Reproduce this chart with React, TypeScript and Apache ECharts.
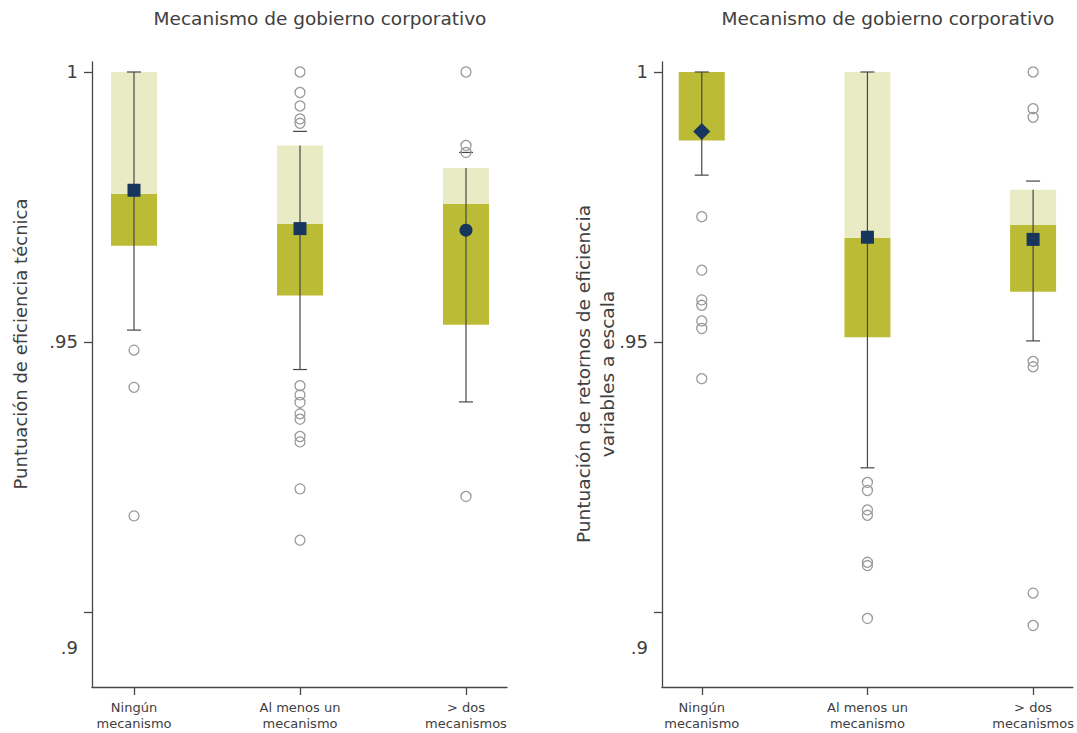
import React, { useEffect, useRef } from "react";
import * as echarts from "echarts";

// ---------- data ----------
const categories = ["Ningún\nmecanismo", "Al menos un\nmecanismo", "> dos\nmecanismos"];
const panelTitle = "Mecanismo de gobierno corporativo";
const leftYName = "Puntuación de eficiencia técnica";
const rightYName = "Puntuación de retornos de eficiencia\nvariables a escala";

const yTickValues = [0.9, 0.95, 1];
const yTickLabels = [".9", ".95", "1"];

// box stats per category: [q1, median, q3, lowerWhisker, upperWhisker]
const teBoxes = [
  [0.9678, 0.9774, 1.0, 0.9522, 1.0],
  [0.9586, 0.9719, 0.9864, 0.9449, 0.989],
  [0.9532, 0.9756, 0.9822, 0.9389, 0.9851],
];
const teMarkers = [0.9781, 0.971, 0.9707];
const teMarkerSymbols = ["rect", "rect", "circle"];
const teOutliers = [
  [0.9485, 0.9416, 0.9178],
  [1.0, 0.9962, 0.9937, 0.9913, 0.9905, 0.9419, 0.9402, 0.9388, 0.9367, 0.9357, 0.9325, 0.9315, 0.9228, 0.9133],
  [1.0, 0.9864, 0.9851, 0.9214],
];

const vrsBoxes = [
  [0.9873, 1.0, 1.0, 0.9809, 1.0],
  [0.9509, 0.9693, 1.0, 0.9267, 1.0],
  [0.9593, 0.9717, 0.9782, 0.9502, 0.9798],
];
const vrsMarkers = [0.989, 0.9694, 0.969];
const vrsMarkerSymbols = ["diamond", "rect", "rect"];
const vrsOutliers = [
  [0.9732, 0.9633, 0.9578, 0.9568, 0.9539, 0.9525, 0.9432],
  [0.924, 0.9225, 0.9189, 0.9179, 0.9092, 0.9086, 0.8988],
  [1.0, 0.9932, 0.9916, 0.9464, 0.9454, 0.9035, 0.8975],
];

// ---------- style ----------
const FONT = "DejaVu Sans, Verdana, sans-serif";
const DARK = "#BCBB35";
const LIGHT = "#E9EBC4";
const NAVY = "#16365E";
const LINE = "#474747";
const TEXT = "#404040";

export default function App() {
  const ref = useRef<HTMLDivElement>(null);

  useEffect(() => {
    if (!ref.current) return;
    const chart = echarts.init(ref.current, null, { renderer: "svg" });

    const renderBox = (params: any, api: any) => {
      const x = api.value(0);
      const q1 = api.coord([x, api.value(1)]);
      const med = api.coord([x, api.value(2)]);
      const q3 = api.coord([x, api.value(3)]);
      const wlo = api.coord([x, api.value(4)]);
      const whi = api.coord([x, api.value(5)]);
      const cx = q1[0];
      const bw = 46;
      const cw = 14;
      const ls = { stroke: LINE, lineWidth: 1.2 };
      return {
        type: "group",
        children: [
          { type: "rect", shape: { x: cx - bw / 2, y: med[1], width: bw, height: q1[1] - med[1] }, style: { fill: DARK } },
          { type: "rect", shape: { x: cx - bw / 2, y: q3[1], width: bw, height: med[1] - q3[1] }, style: { fill: LIGHT } },
          { type: "line", shape: { x1: cx, y1: q3[1], x2: cx, y2: wlo[1] }, style: ls },
          { type: "line", shape: { x1: cx - cw / 2, y1: wlo[1], x2: cx + cw / 2, y2: wlo[1] }, style: ls },
          { type: "line", shape: { x1: cx - cw / 2, y1: whi[1], x2: cx + cw / 2, y2: whi[1] }, style: ls },
        ],
      };
    };

    const yMin = 0.88611;
    const yMax = 1.00185;

    const makeX = (idx: number, min: number, max: number) => ({
      type: "value",
      gridIndex: idx,
      min,
      max,
      splitLine: { show: false },
      axisLine: { show: true, lineStyle: { color: LINE, width: 1.3 } },
      axisTick: { show: true, length: 8, customValues: [1, 2, 3], lineStyle: { color: LINE, width: 1.3 } },
      axisLabel: {
        customValues: [1, 2, 3],
        formatter: (v: number) => categories[Math.round(v) - 1] ?? "",
        fontSize: 13,
        lineHeight: 16,
        color: TEXT,
        fontFamily: FONT,
        margin: 12,
      },
    });

    const makeY = (idx: number) => ({
      type: "value",
      gridIndex: idx,
      min: yMin,
      max: yMax,
      splitLine: { show: false },
      axisLine: { show: true, lineStyle: { color: LINE, width: 1.3 } },
      axisTick: { show: true, length: 8, customValues: yTickValues, lineStyle: { color: LINE, width: 1.3 } },
      axisLabel: {
        customValues: yTickValues,
        formatter: (v: number) => {
          const i = yTickValues.findIndex((t) => Math.abs(t - v) < 1e-6);
          const s = i >= 0 ? yTickLabels[i] : "";
          return i === 0 ? "{low|" + s + "}" : s;
        },
        rich: { low: { fontSize: 18, color: TEXT, fontFamily: FONT, padding: [72, 0, 0, 0] } },
        fontSize: 18,
        color: TEXT,
        fontFamily: FONT,
        margin: 14,
      },
    });

    const boxData = (boxes: number[][]) => boxes.map((b, i) => [i + 1, ...b]);
    const markerData = (vals: number[], syms: string[]) =>
      vals.map((v, i) => ({ value: [i + 1, v], symbol: syms[i], symbolSize: syms[i] === "diamond" ? 17 : 13 }));
    const outlierData = (outs: number[][]) => outs.flatMap((arr, i) => arr.map((v) => [i + 1, v]));

    const panelSeries = (idx: number, boxes: number[][], markers: number[], syms: string[], outs: number[][]) => [
      {
        type: "custom",
        xAxisIndex: idx,
        yAxisIndex: idx,
        renderItem: renderBox,
        data: boxData(boxes),
        encode: { x: 0, y: [1, 2, 3, 4, 5] },
        z: 2,
      },
      {
        type: "scatter",
        xAxisIndex: idx,
        yAxisIndex: idx,
        data: outlierData(outs),
        symbol: "circle",
        symbolSize: 10,
        itemStyle: { color: "rgba(255,255,255,0)", borderColor: "#9a9a9a", borderWidth: 1.3, opacity: 1 },
        z: 3,
      },
      {
        type: "scatter",
        xAxisIndex: idx,
        yAxisIndex: idx,
        data: markerData(markers, syms),
        itemStyle: { color: NAVY, opacity: 1 },
        z: 4,
      },
    ];

    const titleStyle = { fontSize: 18.5, fontWeight: "normal", color: TEXT, fontFamily: FONT };

    const option: any = {
      animation: false,
      backgroundColor: "#fff",
      textStyle: { fontFamily: FONT },
      title: [
        { text: panelTitle, left: 320, top: 9, textAlign: "center", padding: 0, textStyle: titleStyle },
        { text: panelTitle, left: 888, top: 9, textAlign: "center", padding: 0, textStyle: titleStyle },
      ],
      grid: [
        { left: 92, top: 62, width: 415, height: 625 },
        { left: 662, top: 62, width: 415, height: 625 },
      ],
      xAxis: [makeX(0, 0.747, 3.247), makeX(1, 0.76, 3.24)],
      yAxis: [makeY(0), makeY(1)],
      graphic: [
        {
          type: "text",
          x: 20,
          y: 344,
          rotation: Math.PI / 2,
          style: { text: leftYName, font: "18px " + FONT, fill: TEXT, align: "center", verticalAlign: "middle" },
        },
        {
          type: "text",
          x: 595,
          y: 374,
          rotation: Math.PI / 2,
          style: { text: rightYName, font: "18.5px " + FONT, fill: TEXT, align: "center", verticalAlign: "middle", lineHeight: 24 },
        },
      ],
      series: [
        ...panelSeries(0, teBoxes, teMarkers, teMarkerSymbols, teOutliers),
        ...panelSeries(1, vrsBoxes, vrsMarkers, vrsMarkerSymbols, vrsOutliers),
      ],
    };

    chart.setOption(option);
    return () => chart.dispose();
  }, []);

  return (
    <div
      ref={ref}
      style={{ position: "fixed", left: 0, top: 0, width: 1077, height: 733, background: "#fff" }}
    />
  );
}
